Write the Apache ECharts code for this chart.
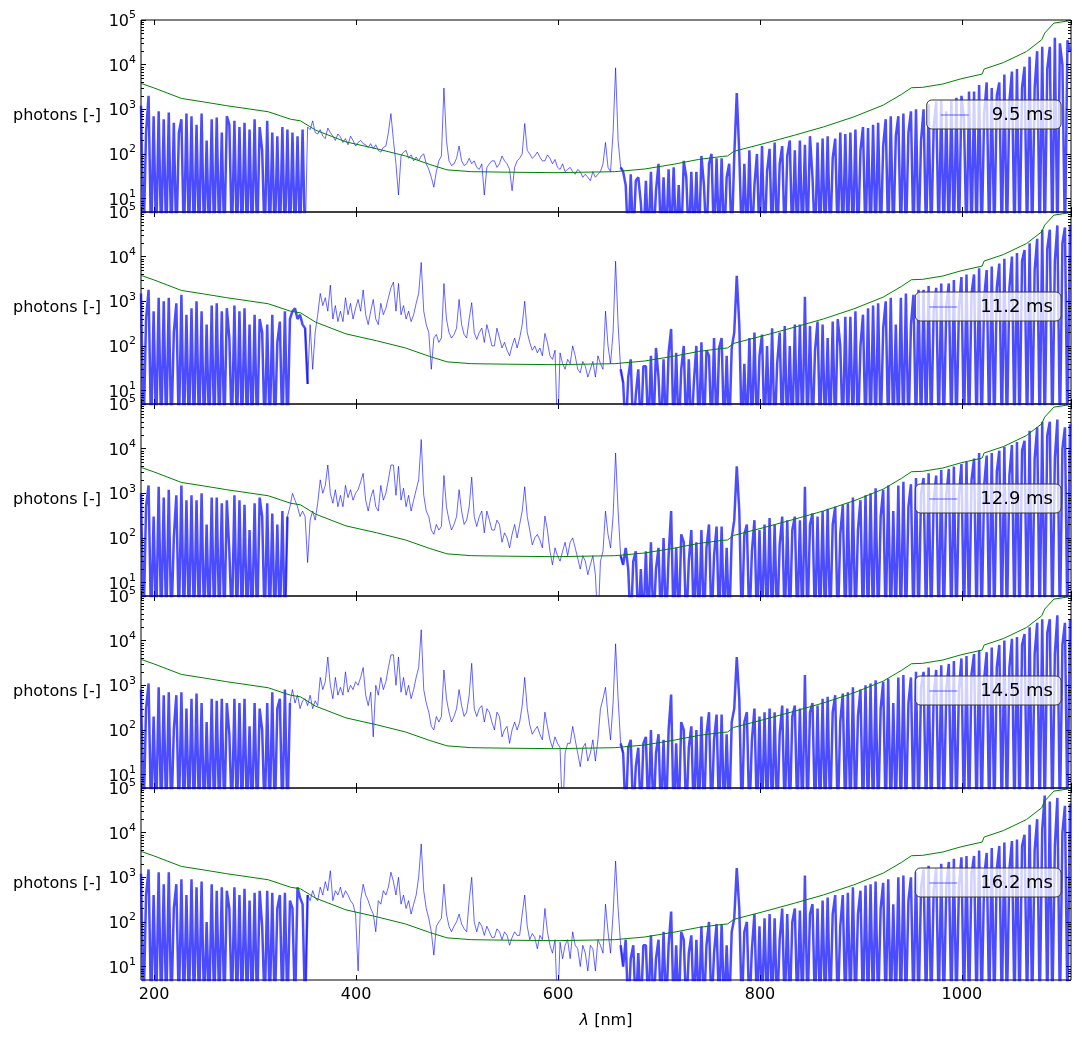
<!DOCTYPE html>
<html>
<head>
<meta charset="utf-8">
<title>photons vs wavelength</title>
<script src="https://cdn.jsdelivr.net/npm/echarts@6/dist/echarts.min.js"></script>
<style>
    html, body { margin: 0; padding: 0; background: #fff; }
    #main { width: 1082px; height: 1037px; }
</style>
</head>
<body>
<div id="main"></div>
<script>
// wavelength grid [nm]
var lambdaNm = [
    187,189.5,192,194.5,197,199.5,202,204.5,207,209.5,
    212,214.5,217,219.5,222,224.5,227,229.5,232,234.5,
    237,239.5,242,244.5,247,249.5,252,254.5,257,259.5,
    262,264.5,267,269.5,272,274.5,277,279.5,282,284.5,
    287,289.5,292,294.5,297,299.5,302,304.5,307,309.5,
    312,314.5,317,319.5,322,324.5,327,329.5,332,334.5,
    337,339.5,342,344.5,347,349.5,352,354.5,357,359.5,
    362,364.5,367,369.5,372,374.5,377,379.5,382,384.5,
    387,389.5,392,394.5,397,399.5,402,404.5,407,409.5,
    412,414.5,417,419.5,422,424.5,427,429.5,432,434.5,
    437,439.5,442,444.5,447,449.5,452,454.5,457,459.5,
    462,464.5,467,469.5,472,474.5,477,479.5,482,484.5,
    487,489.5,492,494.5,497,499.5,502,504.5,507,509.5,
    512,514.5,517,519.5,522,524.5,527,529.5,532,534.5,
    537,539.5,542,544.5,547,549.5,552,554.5,557,559.5,
    562,564.5,567,569.5,572,574.5,577,579.5,582,584.5,
    587,589.5,592,594.5,597,599.5,602,604.5,607,609.5,
    612,614.5,617,619.5,622,624.5,627,629.5,632,634.5,
    637,639.5,642,644.5,647,649.5,652,654.5,657,659.5,
    662,664.5,667,669.5,672,674.5,677,679.5,682,684.5,
    687,689.5,692,694.5,697,699.5,702,704.5,707,709.5,
    712,714.5,717,719.5,722,724.5,727,729.5,732,734.5,
    737,739.5,742,744.5,747,749.5,752,754.5,757,759.5,
    762,764.5,767,769.5,772,774.5,777,779.5,782,784.5,
    787,789.5,792,794.5,797,799.5,802,804.5,807,809.5,
    812,814.5,817,819.5,822,824.5,827,829.5,832,834.5,
    837,839.5,842,844.5,847,849.5,852,854.5,857,859.5,
    862,864.5,867,869.5,872,874.5,877,879.5,882,884.5,
    887,889.5,892,894.5,897,899.5,902,904.5,907,909.5,
    912,914.5,917,919.5,922,924.5,927,929.5,932,934.5,
    937,939.5,942,944.5,947,949.5,952,954.5,957,959.5,
    962,964.5,967,969.5,972,974.5,977,979.5,982,984.5,
    987,989.5,992,994.5,997,999.5,1002,1004.5,1007,1009.5,
    1012,1014.5,1017,1019.5,1022,1024.5,1027,1029.5,1032,1034.5,
    1037,1039.5,1042,1044.5,1047,1049.5,1052,1054.5,1057,1059.5,
    1062,1064.5,1067,1069.5,1072,1074.5,1077,1079.5,1082,1084.5,
    1087,1089.5,1092,1094.5,1097,1099.5,1102,1104.5,1107
];

// photons (0 = nothing measured, drops below the axis)
var photons_9_5 = [
    1200,0,300,2000,0,700,0,900,0,600,
    0,850,0,500,0,300,600,0,800,0,
    700,0,450,0,800,0,200,0,600,0,
    650,0,300,0,700,450,0,550,0,400,
    0,500,0,350,0,600,0,400,120,0,
    550,0,300,0,250,0,400,0,350,0,
    300,0,250,0,350,0,400,350,550,300,
    280,350,250,220,380,300,250,200,280,240,
    180,220,160,250,200,150,180,200,170,160,
    140,170,130,160,120,110,140,150,300,800,
    200,60,12,90,110,120,80,95,70,85,
    70,90,100,60,45,30,18,40,70,90,
    3000,200,70,55,60,80,150,70,55,60,
    80,60,70,50,45,60,12,50,60,70,
    70,50,60,90,70,60,45,15,50,70,
    80,100,480,120,100,80,90,110,85,70,
    70,95,80,60,75,50,45,60,40,45,
    50,40,35,45,40,30,35,30,25,40,
    30,35,40,60,180,50,40,300,8500,200,
    50,40,20,0,35,0,25,30,8,0,
    25,0,40,0,15,60,0,30,0,45,
    0,50,0,20,0,70,30,0,40,0,
    40,0,90,20,0,60,100,0,80,0,
    80,0,30,60,0,90,2300,100,0,60,
    0,120,0,20,100,0,150,0,40,130,
    0,180,0,60,150,0,90,200,0,120,
    0,200,0,160,0,250,30,0,180,0,
    220,0,250,0,80,220,0,300,0,280,
    0,300,0,350,0,120,400,0,380,0,
    450,0,500,0,150,600,0,700,0,250,
    700,0,800,0,300,900,0,1000,0,200,
    1000,0,1300,0,400,1500,0,1600,0,900,
    0,1600,0,1800,0,2000,600,0,2500,0,
    2500,0,3500,0,800,4000,0,3000,0,2000,
    4000,0,6000,0,1500,7000,0,8000,0,3000,
    9000,0,15000,0,3000,20000,0,25000,0,8000,
    25000,0,40000,0,30000,10000,0,35000,20000
];
var photons_11_2 = [
    1500,0,400,1800,0,600,0,1200,0,1000,
    0,1200,0,200,900,0,1400,0,500,0,
    700,0,1000,0,600,0,300,0,800,0,
    900,0,600,0,700,150,0,800,0,600,
    0,700,0,300,0,500,0,400,200,0,
    300,0,500,0,120,350,0,600,0,400,
    600,700,400,500,300,250,14,300,30,200,
    500,1500,800,1200,600,2300,400,800,350,600,
    350,1200,500,900,400,700,1100,600,1800,500,
    300,600,1100,400,300,900,500,700,1200,2000,
    2700,600,2500,500,800,400,600,350,500,900,
    1500,7400,600,300,200,30,150,180,120,150,
    2500,400,200,150,180,250,1100,300,180,150,
    400,930,200,140,200,250,120,300,180,100,
    100,250,150,90,120,80,60,100,150,90,
    150,300,1000,200,120,80,100,70,90,60,
    190,120,60,50,80,0,70,40,30,50,
    40,100,60,30,25,45,35,20,30,45,
    20,60,40,30,600,100,40,200,7900,300,
    30,15,0,20,50,0,8,30,0,35,
    35,0,60,0,90,20,0,50,0,70,
    240,0,70,0,30,100,0,50,0,15,
    100,0,120,0,80,60,0,150,0,90,
    150,0,60,0,90,200,3700,300,0,40,
    0,150,0,200,0,60,180,0,100,0,
    250,0,40,200,0,280,0,100,0,300,
    0,300,0,1260,0,280,0,80,350,0,
    300,0,150,0,350,0,400,100,0,450,
    0,450,0,600,0,100,500,0,700,0,
    800,0,900,0,250,1000,0,1200,0,300,
    0,1200,0,1500,0,300,1400,0,1800,0,
    1800,0,2200,0,600,2000,0,2500,0,800,
    2500,0,3000,0,700,3500,0,4000,0,1500,
    4000,0,5500,0,1200,5000,0,6000,0,2000,
    7000,0,9000,0,2000,10000,0,12000,0,8000,
    14000,0,20000,0,5000,25000,0,40000,0,15000,
    40000,0,8000,50000,0,20000,45000,0,50000
];
var photons_12_9 = [
    1000,0,500,1500,0,300,0,1400,0,800,
    0,1200,0,100,900,0,1500,0,700,0,
    900,0,700,0,1000,0,200,0,800,0,
    800,0,600,0,700,50,0,900,0,700,
    0,550,0,150,0,600,0,800,300,0,
    600,0,350,0,200,0,400,0,300,500,
    1000,700,500,300,400,300,28,250,400,250,
    600,2000,1000,1500,4300,1000,600,1200,500,900,
    500,1500,800,1200,700,1000,1200,1800,2800,700,
    400,800,1200,500,400,1500,700,1000,2000,4300,
    4300,900,4000,700,1300,500,900,400,700,1200,
    2000,16000,900,400,300,150,120,200,150,180,
    2500,500,250,150,200,300,1200,400,200,250,
    500,2300,300,180,300,400,130,400,250,150,
    150,250,200,80,130,100,60,120,200,100,
    200,400,1400,300,150,70,100,120,90,60,
    310,150,50,25,60,40,30,50,80,40,
    80,100,60,35,20,40,30,15,25,40,
    15,0,30,50,400,120,60,300,8000,400,
    40,25,60,20,0,30,50,0,20,0,
    50,0,80,0,20,60,0,100,0,40,
    400,0,60,0,120,80,0,30,150,0,
    80,0,150,0,60,200,0,40,180,0,
    180,0,60,0,100,250,4000,400,0,120,
    200,0,50,250,0,150,0,200,0,280,
    0,200,0,70,300,0,250,0,150,300,
    0,250,0,1400,0,200,350,0,300,0,
    400,0,450,0,200,500,0,120,550,0,
    600,0,800,0,150,700,0,900,0,1000,
    0,1300,0,300,1200,0,1500,0,400,0,
    1500,0,1800,0,500,1600,0,2200,0,1000,
    2200,0,2800,0,700,2500,0,3300,0,900,
    3500,0,4000,0,900,4500,0,5000,0,2000,
    6000,0,8000,0,1500,7000,0,8000,0,3000,
    9000,0,11000,0,2500,12000,0,14000,0,9000,
    15000,0,25000,0,6000,30000,0,40000,0,20000,
    40000,0,6000,45000,0,10000,30000,0,35000
];
var photons_14_5 = [
    800,0,300,1100,0,200,0,900,0,600,
    0,700,0,100,600,0,700,0,300,0,
    500,0,650,0,400,0,150,0,500,0,
    450,0,500,0,400,80,0,500,0,400,
    0,500,0,120,0,400,0,300,100,0,
    400,0,700,0,300,500,0,800,0,400,
    800,400,600,300,450,500,350,600,300,450,
    350,1500,800,1200,4300,1000,500,1500,600,900,
    600,2000,700,1000,800,1200,1000,1500,2500,600,
    350,700,70,1000,600,1500,800,1200,2500,4800,
    4800,1000,4300,700,1500,600,1000,500,800,1500,
    2500,17500,800,400,250,120,100,200,150,200,
    2200,500,250,150,200,300,800,350,200,250,
    600,3100,300,200,300,350,150,300,250,150,
    100,250,200,70,100,120,50,100,150,100,
    150,350,1500,300,130,80,100,120,80,60,
    250,120,60,40,70,50,40,0,30,50,
    50,120,60,30,15,40,50,20,30,60,
    20,60,300,500,900,200,60,400,8500,500,
    50,30,0,40,60,0,15,40,0,50,
    70,0,100,0,30,80,0,60,0,100,
    620,0,50,0,150,100,0,40,120,0,
    100,0,200,0,80,250,0,60,220,0,
    220,0,80,0,150,300,4300,500,0,150,
    250,0,60,300,0,200,0,250,0,300,
    0,250,0,80,350,0,300,0,200,350,
    0,300,0,1700,0,250,400,0,350,0,
    500,0,550,0,250,600,0,150,650,0,
    700,0,900,0,200,800,0,1000,0,1100,
    0,1300,0,300,1200,0,1400,0,400,0,
    1500,0,1700,0,400,1500,0,2000,0,900,
    2000,0,2500,0,600,2200,0,2800,0,800,
    3000,0,3500,0,800,4000,0,4500,0,1800,
    5000,0,6000,0,1400,5500,0,7000,0,2500,
    8000,0,10000,0,2500,11000,0,12000,0,8000,
    14000,0,20000,0,5000,25000,0,30000,0,15000,
    30000,0,5000,37000,0,8000,25000,0,30000
];
var photons_16_2 = [
    1200,0,400,1500,0,400,0,1300,0,700,
    0,1300,0,200,700,0,900,0,400,0,
    900,0,600,0,800,0,100,0,700,0,
    500,0,600,0,500,200,0,600,0,400,
    0,550,0,300,0,450,0,500,80,0,
    500,0,450,0,200,400,0,450,0,300,
    200,0,600,350,250,0,400,300,500,350,
    300,600,400,800,500,1400,300,500,400,600,
    350,500,400,300,250,150,8,300,700,400,
    300,200,150,60,300,250,500,400,600,1300,
    800,400,1000,250,400,200,300,150,250,400,
    1000,5600,500,200,120,60,18,80,100,120,
    700,150,80,60,80,100,150,90,70,60,
    300,1000,100,60,100,80,50,80,60,45,
    45,70,60,40,60,50,30,45,60,50,
    50,150,400,80,40,55,45,25,50,40,
    200,60,30,20,40,0,35,15,30,40,
    15,60,30,25,10,30,20,8,30,25,
    8,40,30,20,250,60,20,150,2300,200,
    30,10,40,0,15,30,0,20,0,30,
    30,0,50,0,15,40,0,60,0,30,
    170,0,30,0,60,40,0,20,50,0,
    40,0,80,0,30,100,0,20,90,0,
    90,0,30,0,60,120,1600,200,0,60,
    100,0,25,150,0,80,0,120,0,150,
    0,120,0,40,200,0,150,0,100,200,
    0,180,0,1100,0,150,250,0,200,0,
    300,0,350,0,150,400,0,80,400,0,
    450,0,600,0,150,500,0,650,0,700,
    0,800,0,200,750,0,900,0,250,0,
    1000,0,1100,0,300,1000,0,1300,0,600,
    1500,0,1800,0,500,1600,0,2000,0,600,
    2200,0,2600,0,600,2800,0,3000,0,1200,
    3000,0,4000,0,1000,3500,0,4500,0,1500,
    5000,0,6000,0,1500,6500,0,7000,0,5000,
    9000,0,15000,0,4000,20000,0,12000,68000,0,
    50000,0,5000,60000,0,10000,40000,0,45000
];

// green reference curve (same in every panel)
var noiseNm = [187,200,227,250,272,290,313,335,345,360,390,420,449,473,490,514,550,597,656,686,
    715,739,763,768,774,804,834,863,893,922,940,950,961,981,1000,1020,1022,1041,1064,1079,1082,1091,1106];
var noiseLevel = [3800,3000,1750,1450,1200,1050,880,600,550,340,186,131,90,58,44,40,39,38,40,46,
    59,75,88,90,114,171,262,403,677,1240,2150,3040,3100,3680,4880,6150,7990,11100,19700,36000,51000,85000,96000];

var panelNames = ['9.5 ms', '11.2 ms', '12.9 ms', '14.5 ms', '16.2 ms'];
var panelData = [photons_9_5, photons_11_2, photons_12_9, photons_14_5, photons_16_2];
// wavelength span where the signal is continuous (drawn with a thinner stroke)
var quietNm = [[350, 662], [352, 662], [332, 662], [335, 662], [352, 662]];

// log minor ticks (2..9 of every decade)
var minorTickVals = [6,7,8,9,20,30,40,50,60,70,80,90,200,300,400,500,600,700,800,900,
    2000,3000,4000,5000,6000,7000,8000,9000,20000,30000,40000,50000,60000,70000,80000,90000];

var chart = echarts.init(document.getElementById('main'));

var PANEL_TOP = 20, PANEL_H = 192;
var X_MIN = 187, X_MAX = 1108;
var grids = [], xAxes = [], yAxes = [], series = [], legends = [];

function powLabel(v) {
    var e = Math.log(v) / Math.LN10;
    var r = Math.round(e);
    if (Math.abs(e - r) > 1e-6) return '';
    return '{b|10}{s|' + r + '}';
}

// points of panel k, keeping only those for which keep(x) is true
function panelPoints(k, keep) {
    return lambdaNm.map(function(x, i) {
        var v = panelData[k][i];
        return keep(x) ? [x, v > 0 ? v : 1] : [x, '-'];
    });
}

var tickStyle = {show: true, inside: true, length: 5, lineStyle: {color: '#000', width: 1}};

panelNames.forEach(function(name, k) {
    var top = PANEL_TOP + PANEL_H * k;
    var last = (k === panelNames.length - 1);
    var q = quietNm[k];

    grids.push({
        left: 141, right: 11, top: top, height: PANEL_H,
        show: true, borderColor: '#000', borderWidth: 1,
        backgroundColor: 'rgba(0,0,0,0)'
    });

    // bottom x
    xAxes.push({
        gridIndex: k, type: 'value', min: X_MIN, max: X_MAX, position: 'bottom',
        axisLine: {show: false}, splitLine: {show: false},
        axisTick: tickStyle,
        axisLabel: {
            show: last, color: '#000', fontSize: 16, margin: 7, fontFamily: 'DejaVu Sans',
            showMinLabel: false, showMaxLabel: false,
            formatter: function(v) { return v % 200 === 0 ? String(v) : ''; }
        },
        name: last ? '{i|λ} [nm]' : '',
        nameLocation: 'middle', nameGap: 33,
        nameTextStyle: {
            color: '#000', fontSize: 16, fontFamily: 'DejaVu Sans',
            rich: {i: {fontStyle: 'italic', fontSize: 16, fontFamily: 'DejaVu Sans', color: '#000'}}
        }
    });
    // top x (ticks only)
    xAxes.push({
        gridIndex: k, type: 'value', min: X_MIN, max: X_MAX, position: 'top',
        axisLine: {show: false}, splitLine: {show: false},
        axisTick: tickStyle, axisLabel: {show: false}
    });

    // left y
    yAxes.push({
        gridIndex: k, type: 'log', logBase: 10, min: 5, max: 100000, position: 'left',
        axisLine: {show: false}, splitLine: {show: false},
        axisTick: tickStyle,
        axisLabel: {
            color: '#000', margin: 5, formatter: powLabel, showMinLabel: false,
            rich: {
                b: {fontSize: 16, fontFamily: 'DejaVu Sans', color: '#000', verticalAlign: 'bottom', lineHeight: 20},
                s: {fontSize: 11, fontFamily: 'DejaVu Sans', color: '#000', verticalAlign: 'top', lineHeight: 20, padding: [0, 0, 8, 0]}
            }
        },
        name: 'photons [-]', nameLocation: 'middle', nameRotate: 0, nameGap: 40,
        nameMoveOverlap: false,
        nameTextStyle: {color: '#000', fontSize: 16, fontFamily: 'DejaVu Sans'}
    });
    // right y (ticks only)
    yAxes.push({
        gridIndex: k, type: 'log', logBase: 10, min: 5, max: 100000, position: 'right',
        axisLine: {show: false}, splitLine: {show: false},
        axisTick: tickStyle, axisLabel: {show: false}
    });

    // noisy parts: heavier stroke
    series.push({
        name: name, type: 'line',
        xAxisIndex: 2 * k, yAxisIndex: 2 * k,
        data: panelPoints(k, function(x) { return x <= q[0] || x >= q[1]; }),
        showSymbol: false, symbol: 'none', clip: true, silent: true, connectNulls: false,
        lineStyle: {color: 'rgba(0,0,255,0.7)', width: 2.5},
        itemStyle: {color: 'rgba(0,0,255,0.6)'},
        z: 2
    });
    // continuous part: thin stroke
    series.push({
        name: name, type: 'line',
        xAxisIndex: 2 * k, yAxisIndex: 2 * k,
        data: panelPoints(k, function(x) { return x >= q[0] - 2.5 && x <= q[1] + 2.5; }),
        showSymbol: false, symbol: 'none', clip: true, silent: true, connectNulls: false,
        lineStyle: {color: 'rgba(0,0,255,0.6)', width: 1},
        itemStyle: {color: 'rgba(0,0,255,0.6)'},
        z: 2
    });
    series.push({
        name: 'noise ' + k, type: 'line',
        xAxisIndex: 2 * k, yAxisIndex: 2 * k,
        data: noiseNm.map(function(x, i) { return [x, noiseLevel[i]]; }),
        showSymbol: false, symbol: 'none', clip: true, silent: true,
        lineStyle: {color: '#008000', width: 1},
        itemStyle: {color: '#008000'},
        z: 3
    });
    // minor ticks on both sides
    series.push({
        type: 'custom', xAxisIndex: 2 * k, yAxisIndex: 2 * k, silent: true, z: 4,
        data: minorTickVals.map(function(v) { return [X_MIN, v]; }),
        renderItem: function(params, api) {
            var y = Math.round(api.coord([X_MIN, api.value(1)])[1]) + 0.5;
            var cs = params.coordSys;
            return {
                type: 'group',
                children: [
                    {type: 'line', shape: {x1: cs.x, y1: y, x2: cs.x + 3, y2: y}, style: {stroke: '#000', lineWidth: 1}},
                    {type: 'line', shape: {x1: cs.x + cs.width - 3, y1: y, x2: cs.x + cs.width, y2: y}, style: {stroke: '#000', lineWidth: 1}}
                ]
            };
        }
    });

    legends.push({
        data: [name], top: top + 80, right: 21,
        selectedMode: false, icon: 'rect', itemWidth: 28, itemHeight: 2,
        itemStyle: {color: 'rgba(0,0,255,0.3)'},
        textStyle: {fontSize: 18, color: '#000', fontFamily: 'DejaVu Sans', padding: [0, 0, 0, 18]},
        backgroundColor: 'rgba(255,255,255,0.75)',
        borderColor: '#333', borderWidth: 1, borderRadius: 5,
        padding: [6, 8, 5, 14]
    });
});

var option = {
    animation: false,
    backgroundColor: '#fff',
    textStyle: {fontFamily: 'DejaVu Sans'},
    grid: grids,
    xAxis: xAxes,
    yAxis: yAxes,
    legend: legends,
    series: series
};
chart.setOption(option);
</script>
</body>
</html>
